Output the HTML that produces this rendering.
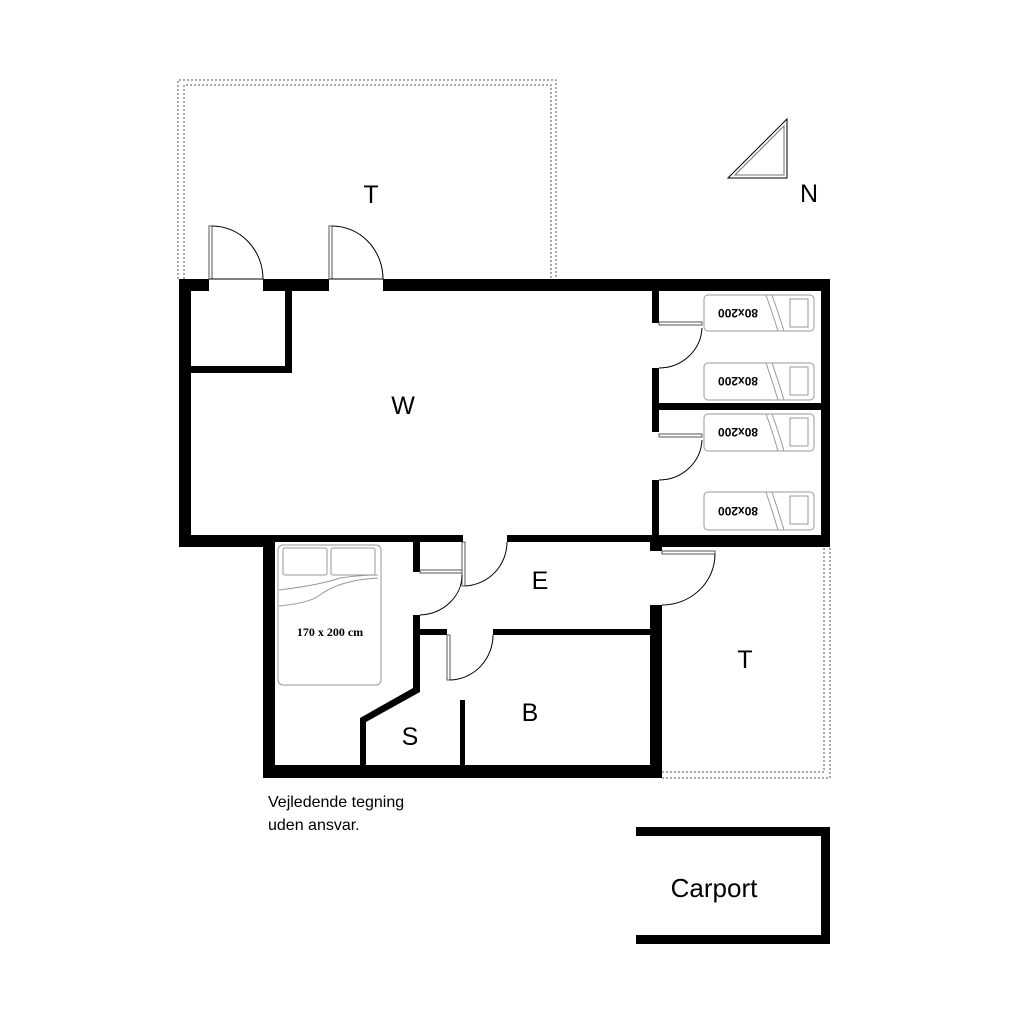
<!DOCTYPE html>
<html><head><meta charset="utf-8"><style>
html,body{margin:0;padding:0;background:#fff;}
svg{display:block;}
text{font-family:"Liberation Sans",Arial,sans-serif;fill:#000;}
</style></head><body>
<svg width="1024" height="1024" viewBox="0 0 1024 1024" xmlns="http://www.w3.org/2000/svg">
<rect width="1024" height="1024" fill="#fff"/>
<g fill="none" stroke="#555" stroke-width="1" stroke-dasharray="2,2">
<polyline points="178,279 178,80 556,80 556,279"/>
<polyline points="184,279 184,85 551,85 551,279"/>
<polyline points="662,778 830,778 830,547"/>
<polyline points="662,772 824,772 824,547"/>
</g>
<g fill="#000">
<rect x="179" y="279" width="30" height="12"/>
<rect x="263" y="279" width="66" height="12"/>
<rect x="383" y="279" width="447" height="12"/>
<rect x="179" y="279" width="12" height="268"/>
<rect x="821" y="279" width="9" height="268"/>
<rect x="285" y="291" width="7" height="82"/>
<rect x="191" y="366" width="101" height="7"/>
<rect x="179" y="535" width="96" height="12"/>
<rect x="275" y="535" width="188" height="7"/>
<rect x="507" y="535" width="155" height="7"/>
<rect x="652" y="535" width="178" height="12"/>
<rect x="652" y="291" width="7" height="32"/>
<rect x="652" y="368" width="7" height="64"/>
<rect x="652" y="480" width="7" height="60"/>
<rect x="652" y="403" width="170" height="7"/>
<rect x="263" y="535" width="12" height="243"/>
<rect x="263" y="765" width="399" height="13"/>
<rect x="650" y="535" width="12" height="16"/>
<rect x="650" y="605" width="12" height="173"/>
<rect x="413" y="540" width="7" height="32"/>
<rect x="413" y="615" width="7" height="77"/>
<polygon points="413,688 420,692 366,722 360,718"/>
<rect x="360" y="718" width="6" height="50"/>
<rect x="418" y="629" width="29" height="6"/>
<rect x="493" y="629" width="160" height="6"/>
<rect x="460" y="700" width="5" height="68"/>
<rect x="636" y="827" width="194" height="9"/>
<rect x="821" y="827" width="9" height="117"/>
<rect x="636" y="935" width="194" height="9"/>
</g>
<g fill="none" stroke="#000" stroke-width="1">
<rect x="209" y="226" width="3" height="53" stroke="#555"/>
<path d="M212,226 A51,53 0 0 1 263,279"/>
<line x1="209" y1="279" x2="263" y2="279"/>
<rect x="329" y="226" width="3" height="53" stroke="#555"/>
<path d="M332,226 A51,53 0 0 1 383,279"/>
<line x1="329" y1="279" x2="383" y2="279"/>
<rect x="659" y="322" width="43" height="3" stroke="#555"/>
<path d="M702,328 A43,42 0 0 1 659,368"/>
<rect x="659" y="434" width="43" height="3" stroke="#555"/>
<path d="M702,440 A43,42 0 0 1 659,480"/>
<rect x="462" y="542" width="3" height="44" stroke="#555"/>
<path d="M507,542 A44,44 0 0 1 465,586"/>
<rect x="420" y="570" width="42" height="3" stroke="#555"/>
<path d="M462,575 A44,40 0 0 1 420,615"/>
<rect x="447" y="635" width="3" height="45" stroke="#555"/>
<path d="M493,635 A44,45 0 0 1 450,680"/>
<rect x="662" y="551" width="53" height="3" stroke="#555"/>
<path d="M715,554 A53,51 0 0 1 662,605"/>
<polygon points="728,178 787,119 787,178"/>
<polygon points="735,175 784,126 784,175" stroke="#777"/>
</g>
<g fill="none" stroke="#999" stroke-width="1">
<rect x="704" y="295" width="110" height="36" rx="4"/>
<rect x="790" y="299" width="18" height="28"/>
<path d="M766,295 Q772,312 778,331 M772,295 Q778,312 784,331"/>
<rect x="704" y="363" width="110" height="37" rx="4"/>
<rect x="790" y="367" width="18" height="28"/>
<path d="M766,363 Q772,380 778,400 M772,363 Q778,380 784,400"/>
<rect x="704" y="414" width="110" height="37" rx="4"/>
<rect x="790" y="418" width="18" height="28"/>
<path d="M766,414 Q772,430 778,451 M772,414 Q778,430 784,451"/>
<rect x="704" y="492" width="110" height="38" rx="4"/>
<rect x="790" y="496" width="18" height="28"/>
<path d="M766,492 Q772,510 778,530 M772,492 Q778,510 784,530"/>
<rect x="278" y="545" width="103" height="140" rx="5"/>
<rect x="283" y="548" width="44" height="27" rx="2"/>
<rect x="331" y="548" width="44" height="27" rx="2"/>
<path d="M279,590 Q320,585 340,578 Q360,575 378,575"/>
<path d="M279,606 Q310,603 320,595 Q340,580 378,578"/>
</g>
<g font-size="12" font-weight="bold" text-anchor="middle">
<text x="738" y="317" transform="rotate(180 738 313)">80x200</text>
<text x="738" y="385" transform="rotate(180 738 381)">80x200</text>
<text x="738" y="436" transform="rotate(180 738 432)">80x200</text>
<text x="738" y="515" transform="rotate(180 738 511)">80x200</text>
</g>
<text x="330" y="636" text-anchor="middle" font-size="12" font-weight="bold" style="font-family:'Liberation Serif',serif">170 x 200 cm</text>
<g font-size="25" text-anchor="middle">
<text x="371" y="203">T</text>
<text x="403" y="414">W</text>
<text x="540" y="589">E</text>
<text x="745" y="668">T</text>
<text x="530" y="721">B</text>
<text x="410" y="745">S</text>
<text x="809" y="202">N</text>
</g>
<text x="714" y="897" text-anchor="middle" font-size="26">Carport</text>
<text x="268" y="807" font-size="16">Vejledende tegning</text>
<text x="268" y="830" font-size="16">uden ansvar.</text>
</svg>
</body></html>
